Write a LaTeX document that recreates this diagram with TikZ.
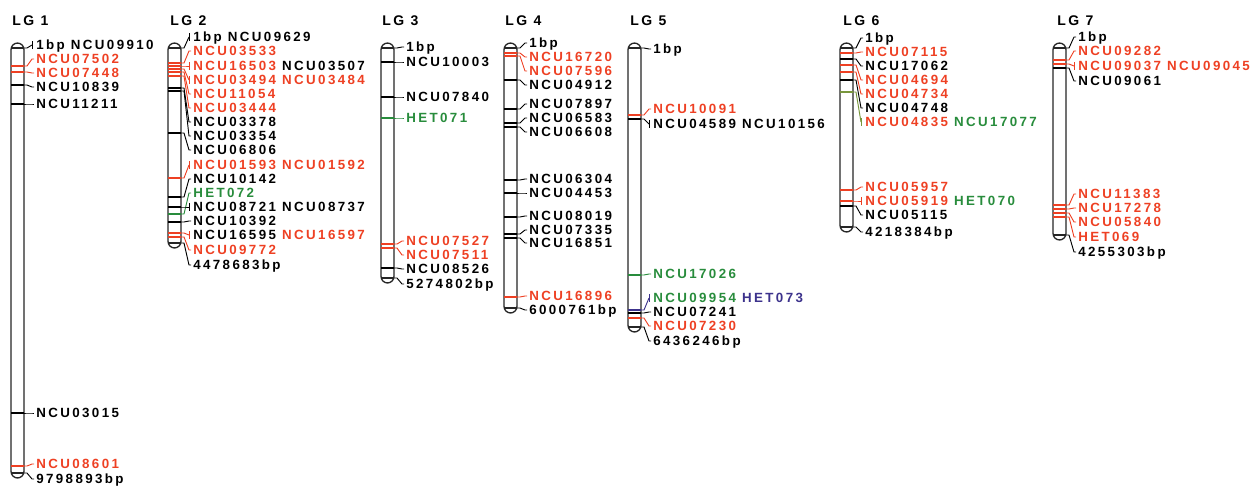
\documentclass[tikz,border=0pt]{standalone}
\usepackage{fontspec}
\usetikzlibrary{calc}
\newfontfamily\lblfont[LetterSpace=18]{Liberation Sans Bold}
\definecolor{mred}{RGB}{238,64,35}
\definecolor{mgreen}{RGB}{40,140,60}
\definecolor{mblue}{RGB}{60,50,140}
\definecolor{molive}{RGB}{120,150,60}
\tikzset{
  lbl/.style={anchor=base west,inner sep=0pt,font=\lblfont\fontsize{10}{11}\selectfont},
  hdr/.style={anchor=base west,inner sep=0pt,font=\lblfont\fontsize{10.5}{12}\selectfont},
  barshape/.style={draw=black!85,line width=1pt,fill=white,rounded corners=5},
  capline/.style={draw=black!85,line width=0.8pt},
  mline/.style={line width=0.8pt},
  conn/.style={line width=0.7pt},
}
% marker with line across bar
\newcommand\mk[6]{%
  \draw[mline,#5] (#2,#3) -- ++(13,0) coordinate (#1m);
  \node[lbl] (#1) at (#2+25,#4+4.5) {#6};
  \draw[conn,#5] (#1m) -- ++(3,0) -- ($(#1.base west)+(-4,-4.5)$) -- ($(#1.base west)+(-2,-4.5)$);
}
% marker with line across bar, bracketed (several loci)
\newcommand\mkb[6]{%
  \draw[mline,#5] (#2,#3) -- ++(13,0) coordinate (#1m);
  \node[lbl] (#1) at (#2+25,#4+4.5) {#6};
  \draw[conn,#5] (#1m) -- ++(3,0) -- ($(#1.base west)+(-4,-4.5)$);
  \draw[conn,#5] ($(#1.base west)+(-4,-8.5)$) -- ($(#1.base west)+(-4,-0.5)$);
}
% end marker (no line across bar)
\newcommand\mke[6]{%
  \coordinate (#1m) at (#2+13,#3);
  \node[lbl] (#1) at (#2+25,#4+4.5) {#6};
  \draw[conn,#5] (#1m) -- ++(3,0) -- ($(#1.base west)+(-4,-4.5)$) -- ($(#1.base west)+(-2,-4.5)$);
}
\newcommand\mkeb[6]{%
  \coordinate (#1m) at (#2+13,#3);
  \node[lbl] (#1) at (#2+25,#4+4.5) {#6};
  \draw[conn,#5] (#1m) -- ++(3,0) -- ($(#1.base west)+(-4,-4.5)$);
  \draw[conn,#5] ($(#1.base west)+(-4,-8.5)$) -- ($(#1.base west)+(-4,-0.5)$);
}
\newcommand\chrom[4]{% #1 name, #2 x0, #3 top, #4 bottom
  \draw[barshape] (#2,#3) rectangle (#2+13,#4);
  \draw[capline] (#2,#3+5) -- (#2+13,#3+5);
  \draw[capline] (#2,#4-5) -- (#2+13,#4-5);
}
\newcommand\R[1]{\textcolor{mred}{#1}}
\newcommand\G[1]{\textcolor{mgreen}{#1}}
\newcommand\B[1]{\textcolor{mblue}{#1}}
\newcommand\K[1]{\textcolor{black}{#1}}
\begin{document}
\begin{tikzpicture}[x=0.75pt,y=-0.75pt]
\useasboundingbox (0,0) rectangle (1260,486);
% headers
\node[hdr] (h1) at (12,25) {LG 1};
\node[hdr] (h2) at (170,25) {LG 2};
\node[hdr] (h3) at (382,25) {LG 3};
\node[hdr] (h4) at (505,25) {LG 4};
\node[hdr] (h5) at (630,25) {LG 5};
\node[hdr] (h6) at (843,25) {LG 6};
\node[hdr] (h7) at (1057,25) {LG 7};
% chromosomes
\chrom{c1}{11}{43}{478}
\chrom{c2}{168}{43}{248}
\chrom{c3}{381}{43}{283}
\chrom{c4}{504}{43}{313}
\chrom{c5}{628}{43}{332}
\chrom{c6}{840}{43}{232}
\chrom{c7}{1053}{43}{240}
% LG1
\mkeb{a1}{11}{48}{45}{black}{1bp NCU09910}
\mk{a2}{11}{66}{59}{mred}{\R{NCU07502}}
\mk{a3}{11}{72}{73}{mred}{\R{NCU07448}}
\mk{a4}{11}{85}{87}{black}{NCU10839}
\mk{a5}{11}{104}{104}{black}{NCU11211}
\mk{a6}{11}{413}{413}{black}{NCU03015}
\mk{a7}{11}{466}{464}{mred}{\R{NCU08601}}
\mke{a8}{11}{473}{479}{black}{9798893bp}
% LG2
\mkeb{b1}{168}{48}{37}{black}{1bp NCU09629}
\mk{b2}{168}{63}{51}{mred}{\R{NCU03533}}
\mkb{b3}{168}{66}{66}{mred}{\R{NCU16503} \K{NCU03507}}
\mkb{b4}{168}{69}{80}{mred}{\R{NCU03494 NCU03484}}
\mk{b5}{168}{72}{94}{mred}{\R{NCU11054}}
\mk{b6}{168}{76}{108}{mred}{\R{NCU03444}}
\mk{b7}{168}{88}{122}{black}{NCU03378}
\mk{b8}{168}{91}{136}{black}{NCU03354}
\mk{b9}{168}{133}{150}{black}{NCU06806}
\mkb{b10}{168}{178}{165}{mred}{\R{NCU01593 NCU01592}}
\mk{b11}{168}{197}{179}{black}{NCU10142}
\mk{b12}{168}{214}{193}{mgreen}{\G{HET072}}
\mkb{b13}{168}{207}{207}{black}{NCU08721 NCU08737}
\mk{b14}{168}{222}{221}{black}{NCU10392}
\mkb{b15}{168}{233}{235}{mred}{\K{NCU16595} \R{NCU16597}}
\mk{b16}{168}{237}{250}{mred}{\R{NCU09772}}
\mke{b17}{168}{243}{265}{black}{4478683bp}
% LG3
\mke{c1}{381}{48}{47}{black}{1bp}
\mk{c2}{381}{62}{62}{black}{NCU10003}
\mk{c3}{381}{97}{97}{black}{NCU07840}
\mk{c4}{381}{118}{118}{mgreen}{\G{HET071}}
\mk{c5}{381}{244}{241}{mred}{\R{NCU07527}}
\mk{c6}{381}{248}{255}{mred}{\R{NCU07511}}
\mk{c7}{381}{268}{269}{black}{NCU08526}
\mke{c8}{381}{278}{284}{black}{5274802bp}
% LG4
\mke{d1}{504}{48}{43}{black}{1bp}
\mk{d2}{504}{53}{57}{mred}{\R{NCU16720}}
\mk{d3}{504}{56}{71}{mred}{\R{NCU07596}}
\mk{d4}{504}{80}{85}{black}{NCU04912}
\mk{d5}{504}{109}{104}{black}{NCU07897}
\mk{d6}{504}{123}{118}{black}{NCU06583}
\mk{d7}{504}{127}{132}{black}{NCU06608}
\mk{d8}{504}{180}{179}{black}{NCU06304}
\mk{d9}{504}{193}{193}{black}{NCU04453}
\mk{d10}{504}{217}{216}{black}{NCU08019}
\mk{d11}{504}{234}{230}{black}{NCU07335}
\mk{d12}{504}{238}{243}{black}{NCU16851}
\mk{d13}{504}{297}{296}{mred}{\R{NCU16896}}
\mke{d14}{504}{308}{310}{black}{6000761bp}
% LG5
\mke{e1}{628}{48}{49}{black}{1bp}
\mk{e2}{628}{115}{109}{mred}{\R{NCU10091}}
\mkb{e3}{628}{119}{124}{black}{NCU04589 NCU10156}
\mk{e4}{628}{275}{274}{mgreen}{\G{NCU17026}}
\mkb{e5}{628}{310}{298}{mblue}{\G{NCU09954} \B{HET073}}
\mk{e6}{628}{313}{312}{black}{NCU07241}
\mk{e7}{628}{318}{326}{mred}{\R{NCU07230}}
\mke{e8}{628}{327}{341}{black}{6436246bp}
% LG6
\mke{f1}{840}{48}{38}{black}{1bp}
\mk{f2}{840}{53}{52}{mred}{\R{NCU07115}}
\mk{f3}{840}{59}{66}{black}{NCU17062}
\mk{f4}{840}{65}{80}{mred}{\R{NCU04694}}
\mk{f5}{840}{72}{94}{mred}{\R{NCU04734}}
\mk{f6}{840}{80}{108}{black}{NCU04748}
\mkb{f7}{840}{92}{122}{molive}{\R{NCU04835} \G{NCU17077}}
\mk{f8}{840}{190}{187}{mred}{\R{NCU05957}}
\mkb{f9}{840}{201}{201}{mred}{\R{NCU05919} \G{HET070}}
\mk{f10}{840}{206}{215}{black}{NCU05115}
\mke{f11}{840}{227}{232}{black}{4218384bp}
% LG7
\mke{g1}{1053}{48}{37}{black}{1bp}
\mk{g2}{1053}{60}{51}{mred}{\R{NCU09282}}
\mkb{g3}{1053}{64}{66}{mred}{\R{NCU09037 NCU09045}}
\mk{g4}{1053}{68}{81}{black}{NCU09061}
\mk{g5}{1053}{205}{194}{mred}{\R{NCU11383}}
\mk{g6}{1053}{209}{208}{mred}{\R{NCU17278}}
\mk{g7}{1053}{213}{222}{mred}{\R{NCU05840}}
\mk{g8}{1053}{217}{237}{mred}{\R{HET069}}
\mke{g9}{1053}{235}{252}{black}{4255303bp}
\end{tikzpicture}
\end{document}
